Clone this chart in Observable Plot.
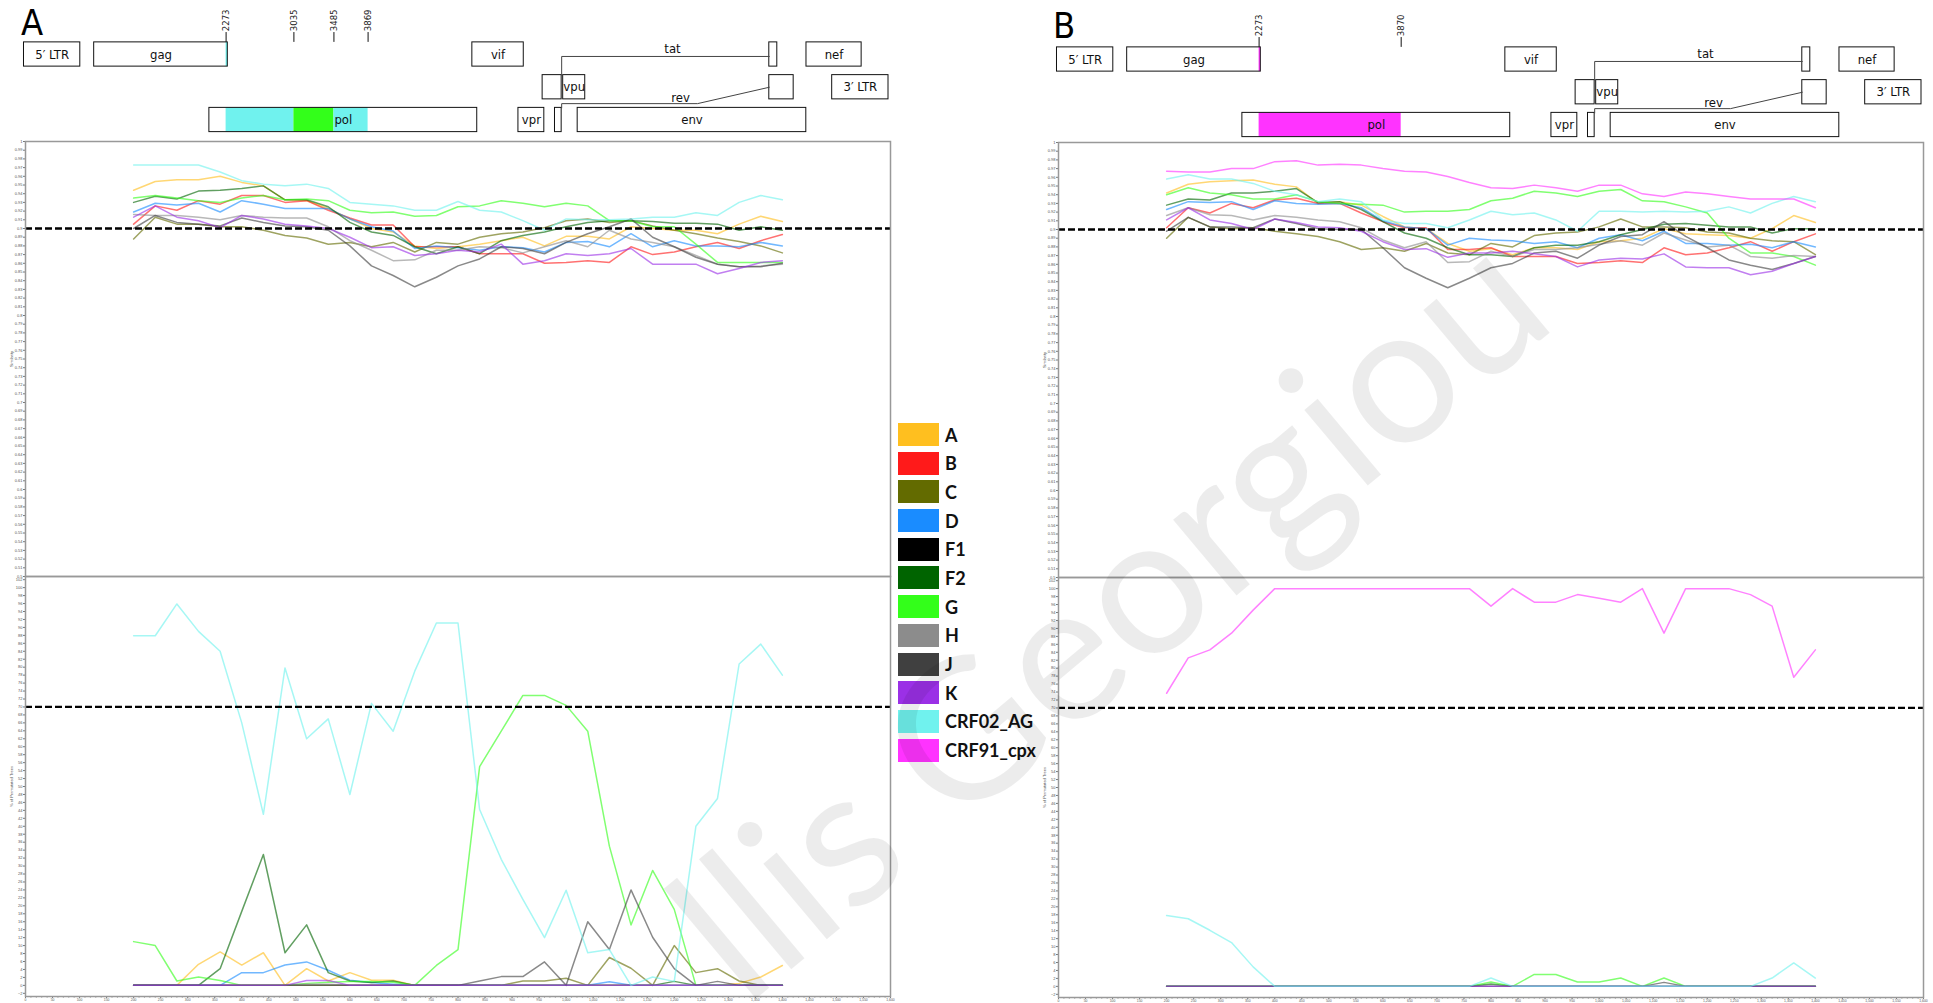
<!DOCTYPE html>
<html>
<head>
<meta charset="utf-8">
<script src="https://cdn.jsdelivr.net/npm/d3@7"></script>
<script src="https://cdn.jsdelivr.net/npm/@observablehq/plot@0.6"></script>
<style>
  html, body { margin:0; padding:0; background:#fff; }
  #page { position:relative; width:1933px; height:1003px; overflow:hidden; background:#fff; }
  .layer { position:absolute; }
  .letter { position:absolute; font-family:"Liberation Sans Narrow","DejaVu Sans Condensed","Liberation Sans",sans-serif; font-size:36px; line-height:1; color:#000; }
  .legend { position:absolute; left:898px; top:423px; font-family:Lato,"Open Sans",sans-serif; font-weight:700; font-size:18px; color:#111; }
  .legend .item { display:flex; align-items:center; height:23px; margin-bottom:5.7px; white-space:nowrap; }
  .legend .sw { width:41px; height:23px; margin-right:6px; flex:none; }
</style>
</head>
<body>
<div id="page"></div>
<script>
// ---------- data ----------
const positions = [200,240,280,320,360,400,440,480,520,560,600,640,680,720,760,800,840,880,920,960,1000,1040,1080,1120,1160,1200,1240,1280,1320,1360,1400];
const subtypes = ["A","B","C","D","F1","F2","G","H","J","K","CRF02_AG","CRF91_cpx"];
const subtypeColors = ["#ffbf1f","#ff1a1a","#636b00","#1a8cff","#000000","#006400","#33ff1a","#8c8c8c","#404040","#9b30e6","#70f2ee","#ff33ff"];

// panel A, similarity
const simA_A  = [.944,.954,.956,.956,.960,.953,.949,.933,.932,.923,.911,.900,.896,.880,.877,.879,.882,.886,.890,.880,.891,.891,.888,.902,.900,.898,.898,.894,.905,.914,.908];
const simA_B  = [.905,.926,.921,.932,.928,.938,.938,.930,.932,.921,.912,.904,.904,.879,.879,.879,.871,.871,.871,.860,.861,.863,.861,.879,.870,.873,.879,.884,.877,.886,.893];
const simA_C  = [.888,.913,.905,.905,.902,.902,.898,.892,.889,.882,.884,.879,.884,.873,.884,.882,.890,.894,.896,.901,.909,.911,.907,.909,.903,.898,.894,.889,.885,.880,.872];
const simA_D  = [.919,.929,.927,.929,.919,.932,.928,.923,.923,.923,.911,.902,.897,.877,.880,.878,.875,.879,.878,.873,.884,.885,.879,.894,.879,.886,.880,.880,.879,.884,.880];
const simA_F2 = [.930,.937,.934,.943,.944,.946,.949,.933,.933,.925,.907,.896,.892,.879,.871,.879,.871,.886,.892,.896,.902,.907,.909,.909,.908,.906,.906,.905,.898,.902,.898];
const simA_G  = [.935,.938,.935,.932,.930,.935,.938,.933,.934,.932,.921,.918,.919,.914,.915,.925,.926,.932,.929,.925,.929,.926,.909,.909,.902,.902,.882,.861,.861,.861,.861];
const simA_H  = [.916,.915,.915,.913,.910,.915,.913,.912,.912,.902,.886,.875,.863,.864,.875,.875,.879,.878,.872,.879,.886,.879,.898,.888,.884,.879,.869,.859,.856,.857,.859];
const simA_J  = [.900,.915,.907,.905,.903,.912,.907,.903,.902,.898,.880,.857,.846,.833,.844,.857,.865,.879,.877,.871,.884,.894,.902,.911,.890,.879,.867,.859,.856,.856,.860];
const simA_K  = [.913,.926,.913,.909,.901,.915,.911,.905,.903,.900,.890,.878,.879,.869,.871,.875,.873,.882,.859,.863,.871,.869,.871,.877,.859,.859,.859,.848,.854,.861,.863];
const simA_AG = [.973,.973,.973,.973,.965,.955,.951,.949,.951,.946,.930,.928,.926,.921,.921,.931,.921,.919,.909,.898,.911,.910,.910,.911,.913,.913,.918,.915,.930,.938,.933];

// panel A, bootscan (% of permutated trees)
const bootA_A  = [0,0,0,5.3,8.4,5.1,8.2,0,4.2,1.1,3.2,1.3,1.3,0,0,0,0,0,0,0,0,0,0,0,0,0,0,0,0.5,2.1,5.0];
const bootA_C  = [0,0,0,0,0,0,0,0,0,0,0,0,0,0,0,0,0,0,1.1,1.1,1.8,0,7.0,4.3,0,10.0,3.2,4.2,1.1,0,0];
const bootA_D  = [0,0,0,0,0,3.2,3.2,5.1,5.9,3.8,1.3,0.7,0.3,0,0,0,0,0,0,0,0,0,0.9,0,0,0,0,0,0,0,0];
const bootA_F2 = [0,0,0,0,4.2,18.6,32.9,8.2,15.2,3.2,1.1,0.7,1.1,0,0,0,0,0,0,0,0,0,0,0,0,1.0,0,0,0,0,0];
const bootA_G  = [11.0,10.0,1.1,2.1,1.2,0,0,0,0.5,0.8,1.0,1.0,0.8,0,5.0,9.0,55.0,63.9,72.9,72.9,70.4,63.9,35.0,15.2,28.9,19.1,0,0,0,0,0];
const bootA_H  = [0,0,0,0,0,0,0,0,0.3,0.3,0,0,0,0,0,0,0,0,0,0,0,0,0,0,0,0,0,0,0,0,0];
const bootA_J  = [0,0,0,0,0,0,0,0,0,0,0,0,0,0,0,0,1.1,2.2,2.2,5.9,0,16.0,9.0,24.0,12.1,4.2,0,1.0,0,0,0];
const bootA_K  = [0,0,0,0,0,0,0,0,1.2,1.2,0,0,0,0,0,0,0,0,0,0,0,0,0,0,0,0,0,0,0,0,0];
const bootA_AG = [87.9,87.9,95.9,89.0,84.0,66.0,43.0,79.8,62.0,67.0,48.0,70.9,63.9,79.0,91.1,91.1,44.2,31.7,21.6,12.0,23.9,8.2,9.0,0,2.1,1.0,40.0,47.0,80.8,85.8,78.0];

// panel B, similarity
const simB_A   = [.942,.952,.955,.956,.957,.952,.949,.930,.932,.928,.915,.903,.901,.884,.875,.878,.871,.879,.879,.877,.886,.887,.890,.901,.895,.894,.893,.890,.901,.916,.908];
const simB_B   = [.902,.925,.919,.930,.925,.934,.936,.930,.930,.919,.909,.902,.902,.877,.877,.879,.869,.869,.869,.861,.862,.864,.862,.879,.871,.873,.879,.886,.875,.886,.895];
const simB_C   = [.890,.914,.903,.901,.902,.898,.895,.892,.886,.877,.879,.875,.884,.873,.871,.884,.880,.893,.896,.897,.903,.912,.903,.903,.902,.897,.896,.890,.887,.886,.871];
const simB_D   = [.923,.932,.931,.932,.923,.933,.930,.929,.930,.925,.910,.903,.901,.882,.890,.888,.887,.884,.886,.879,.890,.894,.887,.898,.884,.884,.882,.883,.879,.886,.880];
const simB_F2  = [.928,.935,.934,.942,.942,.944,.947,.931,.932,.923,.909,.896,.890,.879,.871,.871,.869,.879,.882,.882,.886,.894,.900,.906,.907,.905,.903,.903,.896,.901,.901];
const simB_G   = [.940,.948,.942,.940,.935,.935,.940,.932,.930,.929,.928,.920,.921,.921,.923,.933,.936,.944,.942,.938,.944,.946,.933,.932,.926,.919,.890,.873,.873,.869,.859];
const simB_H   = [.916,.925,.917,.916,.911,.916,.914,.911,.909,.902,.888,.879,.886,.862,.863,.875,.869,.877,.877,.879,.883,.887,.882,.896,.888,.880,.882,.869,.867,.870,.869];
const simB_J   = [.898,.914,.903,.903,.902,.912,.907,.901,.900,.900,.879,.856,.844,.833,.844,.856,.861,.873,.875,.867,.882,.892,.894,.909,.892,.879,.865,.859,.854,.861,.869];
const simB_K   = [.911,.925,.911,.907,.900,.912,.908,.903,.902,.898,.886,.877,.878,.868,.873,.873,.875,.872,.869,.857,.865,.867,.866,.872,.857,.856,.856,.848,.852,.861,.869];
const simB_AG  = [.958,.963,.958,.958,.953,.944,.940,.932,.935,.932,.911,.907,.907,.902,.911,.921,.917,.919,.911,.898,.921,.921,.920,.921,.920,.921,.926,.919,.930,.938,.932];
const simB_cpx = [.967,.966,.966,.970,.970,.978,.979,.974,.975,.974,.970,.967,.966,.961,.954,.948,.947,.951,.948,.944,.951,.951,.941,.938,.943,.941,.938,.935,.935,.935,.925];

// panel B, bootscan
const bootB_F2  = [0,0,0,0,0,0,0,0,0,0,0,0,0,0,0,0.6,0,0,0,0,0,0,0,0,0,0,0,0,0,0,0];
const bootB_G   = [0,0,0,0,0,0,0,0,0,0,0,0,0,0,0,1.1,0,3.0,3.0,1.1,1.1,2.1,0,2.1,0,0,0,0,0,0,0];
const bootB_J   = [0,0,0,0,0,0,0,0,0,0,0,0,0,0,0,0,0,0,0,0,0,0,0,1.0,0,0,0,0,0,0,0];
const bootB_K   = [0,0,0,0,0,0,0,0,0,0,0,0,0,0,0,0,0,0,0,0,0,0,0,0,0,0,0,0,0,0,0];
const bootB_AG  = [17.8,17.0,14.1,11.0,4.9,0,0,0,0,0,0,0,0,0,0,2.1,0,0,0,0,0,0,0,0,0,0,0,0,2.1,5.9,2.1];
const bootB_cpx = [73.7,82.6,84.6,88.8,94.6,100,100,100,100,100,100,100,100,100,100,95.6,100,96.6,96.6,98.5,97.6,96.6,100,88.8,100,100,100,98.5,95.6,77.7,84.6];

const simThreshold = 0.9;
const bootThreshold = 70;

// HXB2 genome map
const geneNames  = ["5LTR","gag","vif","tat2","nef","tat1","vpu","rev2","3LTR","pol","vpr","rev1","env"];
const geneLabels = ["5\u2032 LTR","gag","vif","","nef","","vpu","","3\u2032 LTR","pol","vpr","","env"];
const geneStarts = [1,790,5041,8379,8797,5831,6062,8379,9086,2085,5559,5970,6225];
const geneEnds   = [634,2292,5619,8469,9417,6045,6310,8653,9719,5096,5850,6045,8795];
const geneRows   = [1,1,1,1,1,2,2,2,2,3,3,3,3];
const breaksA = [2273,3035,3485,3869];
const breaksB = [2273,3870];
const regionA_start = [2273,2273,3035,3485];
const regionA_end   = [2292,3035,3485,3869];
const regionA_row   = [1,3,3,3];
const regionA_type  = ["CRF02_AG","CRF02_AG","G","CRF02_AG"];
const regionB_start = [2273,2273];
const regionB_end   = [2292,3870];
const regionB_row   = [1,3];
const regionB_type  = ["CRF91_cpx","CRF91_cpx"];
const revKnee = 7572;   // genome position where the rev splice line bends
const linkLabelText = ["tat","rev"];
const linkLabelPos  = [7291,7381];

// ---------- helpers ----------
const page = document.getElementById("page");
function place(el, left, top) {
  const d = document.createElement("div");
  d.className = "layer";
  d.style.left = left + "px"; d.style.top = top + "px";
  d.appendChild(el); page.appendChild(d); return d;
}
function tidy(list) {
  return list.flatMap(([s, vals]) => vals.map((v, i) => ({x: positions[i], v, s})));
}
const colorScale = {domain: subtypes, range: subtypeColors};
const narrow = "Liberation Sans Narrow, DejaVu Sans Condensed, Liberation Sans, sans-serif";

function mapPlot(breaks, rs, re, rr, rt) {
  const half = 0.37;
  const genes = geneNames.map((n, i) => ({name: n, label: geneLabels[i], start: geneStarts[i], end: geneEnds[i], row: geneRows[i]}));
  const g = n => genes.find(d => d.name === n);
  const tat1 = g("tat1"), tat2 = g("tat2"), rev1 = g("rev1"), rev2 = g("rev2");
  const tatLink = [
    {x: tat1.end, y: tat1.row - half},
    {x: tat1.end, y: tat2.row + 0.06},
    {x: tat2.start, y: tat2.row + 0.06}
  ];
  const revLink = [
    {x: rev1.end, y: rev1.row - half},
    {x: rev1.end, y: rev1.row - 0.5},
    {x: revKnee, y: rev1.row - 0.5},
    {x: rev2.start, y: rev2.row}
  ];
  const linkLabels = [
    {x: linkLabelPos[0], y: tat2.row - 0.18, t: linkLabelText[0]},
    {x: linkLabelPos[1], y: rev1.row - 0.69, t: linkLabelText[1]}
  ];
  const regions = rs.map((s, i) => ({start: s, end: re[i], row: rr[i], type: rt[i]}));
  return Plot.plot({
    width: 900, height: 145, margin: 0,
    x: {domain: [0, 9719], range: [23.4, 888], axis: null},
    y: {domain: [0, 3.6], range: [21.25, 139.15], axis: null},
    color: colorScale,
    style: {fontFamily: narrow, background: "transparent", overflow: "visible"},
    marks: [
      Plot.rect(genes, {x1: "start", x2: "end", y1: d => d.row - half, y2: d => d.row + half, fill: "white"}),
      Plot.rect(regions, {x1: "start", x2: "end", y1: d => d.row - half, y2: d => d.row + half, fill: "type"}),
      Plot.rect(genes, {x1: "start", x2: "end", y1: d => d.row - half, y2: d => d.row + half, fill: "none", stroke: "#111", strokeWidth: 1}),
      Plot.text(genes.filter(d => d.label), {x: d => (d.start + d.end) / 2, y: "row", text: "label", fontSize: 13, fill: "#111"}),
      Plot.line(tatLink, {x: "x", y: "y", stroke: "#444", strokeWidth: 1}),
      Plot.line(revLink, {x: "x", y: "y", stroke: "#444", strokeWidth: 1}),
      Plot.text(linkLabels, {x: "x", y: "y", text: "t", fontSize: 13, fill: "#111"}),
      Plot.ruleX(breaks, {y1: 0.33, y2: 0.63, stroke: "#111", strokeWidth: 1}),
      Plot.text(breaks, {x: d => d, y: 0.29, text: d => String(d), rotate: -90, textAnchor: "start", fontSize: 9.5, fill: "#222"})
    ]
  });
}

function simPlot(data) {
  return Plot.plot({
    width: 900, height: 450, marginLeft: 25, marginRight: 10, marginTop: 11, marginBottom: 4,
    x: {domain: [0, 1600], axis: null},
    y: {domain: [0.5, 1.0], axis: null},
    color: colorScale,
    style: {fontFamily: "Liberation Sans, Arial, sans-serif", fontSize: "4px", background: "transparent", overflow: "visible"},
    marks: [
      Plot.axisY({ticks: d3.range(50, 101).map(d => d / 100), tickSize: 2, tickPadding: 1, fontSize: 4, tickFormat: d3.format(".2~f"),
                  label: "Similarity", labelAnchor: "center", labelArrow: "none", labelOffset: 15, stroke: "#777", fill: "#555"}),
      Plot.line(data, {x: "x", y: "v", z: "s", stroke: "s", strokeWidth: 1.5, strokeOpacity: 0.62}),
      Plot.ruleY([simThreshold], {stroke: "#000", strokeWidth: 2.3, strokeDasharray: "7,3"}),
      Plot.frame({stroke: "#999", strokeWidth: 1.5})
    ]
  });
}

function bootPlot(data) {
  return Plot.plot({
    width: 900, height: 436, marginLeft: 25, marginRight: 10, marginTop: 10, marginBottom: 6,
    x: {domain: [0, 1600]},
    y: {domain: [-2.8, 102.8], axis: null},
    color: colorScale,
    style: {fontFamily: "Liberation Sans, Arial, sans-serif", fontSize: "3.5px", background: "transparent", overflow: "visible"},
    marks: [
      Plot.axisY({ticks: d3.range(-2, 103, 2), tickSize: 2, tickPadding: 1, fontSize: 4,
                  label: "% of Permutated Trees", labelAnchor: "center", labelArrow: "none", labelOffset: 15, stroke: "#777", fill: "#555"}),
      Plot.axisX({ticks: d3.range(0, 1601, 10), tickSize: 1.5, tickFormat: () => "", label: null, stroke: "#777"}),
      Plot.axisX({ticks: d3.range(0, 1601, 50), tickSize: 2, tickPadding: 0, fontSize: 3.4, tickFormat: d3.format(","), label: null, stroke: "#777", fill: "#555"}),
      Plot.line(data, {x: "x", y: "v", z: "s", stroke: "s", strokeWidth: 1.5, strokeOpacity: 0.62}),
      Plot.ruleY([bootThreshold], {stroke: "#000", strokeWidth: 2.3, strokeDasharray: "7,3"}),
      Plot.frame({stroke: "#999", strokeWidth: 1.5})
    ]
  });
}

// ---------- panel A ----------
const upperA = tidy([["A", simA_A], ["B", simA_B], ["C", simA_C], ["D", simA_D], ["F2", simA_F2], ["G", simA_G],
                     ["H", simA_H], ["J", simA_J], ["K", simA_K], ["CRF02_AG", simA_AG]]);
const lowerA = tidy([["A", bootA_A], ["C", bootA_C], ["D", bootA_D], ["F2", bootA_F2], ["G", bootA_G],
                     ["H", bootA_H], ["J", bootA_J], ["K", bootA_K], ["CRF02_AG", bootA_AG]]);
// ---------- panel B ----------
const upperB = tidy([["A", simB_A], ["B", simB_B], ["C", simB_C], ["D", simB_D], ["F2", simB_F2], ["G", simB_G],
                     ["H", simB_H], ["J", simB_J], ["K", simB_K], ["CRF02_AG", simB_AG], ["CRF91_cpx", simB_cpx]]);
const lowerB = tidy([["F2", bootB_F2], ["G", bootB_G], ["J", bootB_J], ["K", bootB_K], ["CRF02_AG", bootB_AG], ["CRF91_cpx", bootB_cpx]]);

const offsetB = 1033;
place(mapPlot(breaksA, regionA_start, regionA_end, regionA_row, regionA_type), 0, 0);
place(mapPlot(breaksB, regionB_start, regionB_end, regionB_row, regionB_type), offsetB, 5);
place(simPlot(upperA), 0, 130);
place(simPlot(upperB), offsetB, 131);
place(bootPlot(lowerA), 0, 566);
place(bootPlot(lowerB), offsetB, 567);

// panel letters
["A", "B"].forEach((t, i) => {
  const d = document.createElement("div");
  d.className = "letter"; d.textContent = t;
  d.style.left = (i ? 1053 : 21) + "px"; d.style.top = (i ? 8 : 5) + "px";
  page.appendChild(d);
});

// legend
const legend = document.createElement("div");
legend.className = "legend";
subtypes.forEach((s, i) => {
  const item = document.createElement("div"); item.className = "item";
  const sw = document.createElement("div"); sw.className = "sw"; sw.style.background = subtypeColors[i];
  const tx = document.createElement("span"); tx.textContent = s;
  item.appendChild(sw); item.appendChild(tx); legend.appendChild(item);
});
page.appendChild(legend);

// watermark
const wm = d3.select(page).append("svg").attr("class", "layer")
  .attr("width", 1933).attr("height", 1003).style("left", "0px").style("top", "0px").style("pointer-events", "none");
wm.append("text").attr("x", 745).attr("y", 1008).attr("transform", "rotate(-40,745,1008)")
  .attr("font-family", "Lato, 'Open Sans', sans-serif").attr("font-size", 195)
  .attr("fill", "#000").attr("fill-opacity", 0.075).text("llis Georgiou");
</script>
</body>
</html>
